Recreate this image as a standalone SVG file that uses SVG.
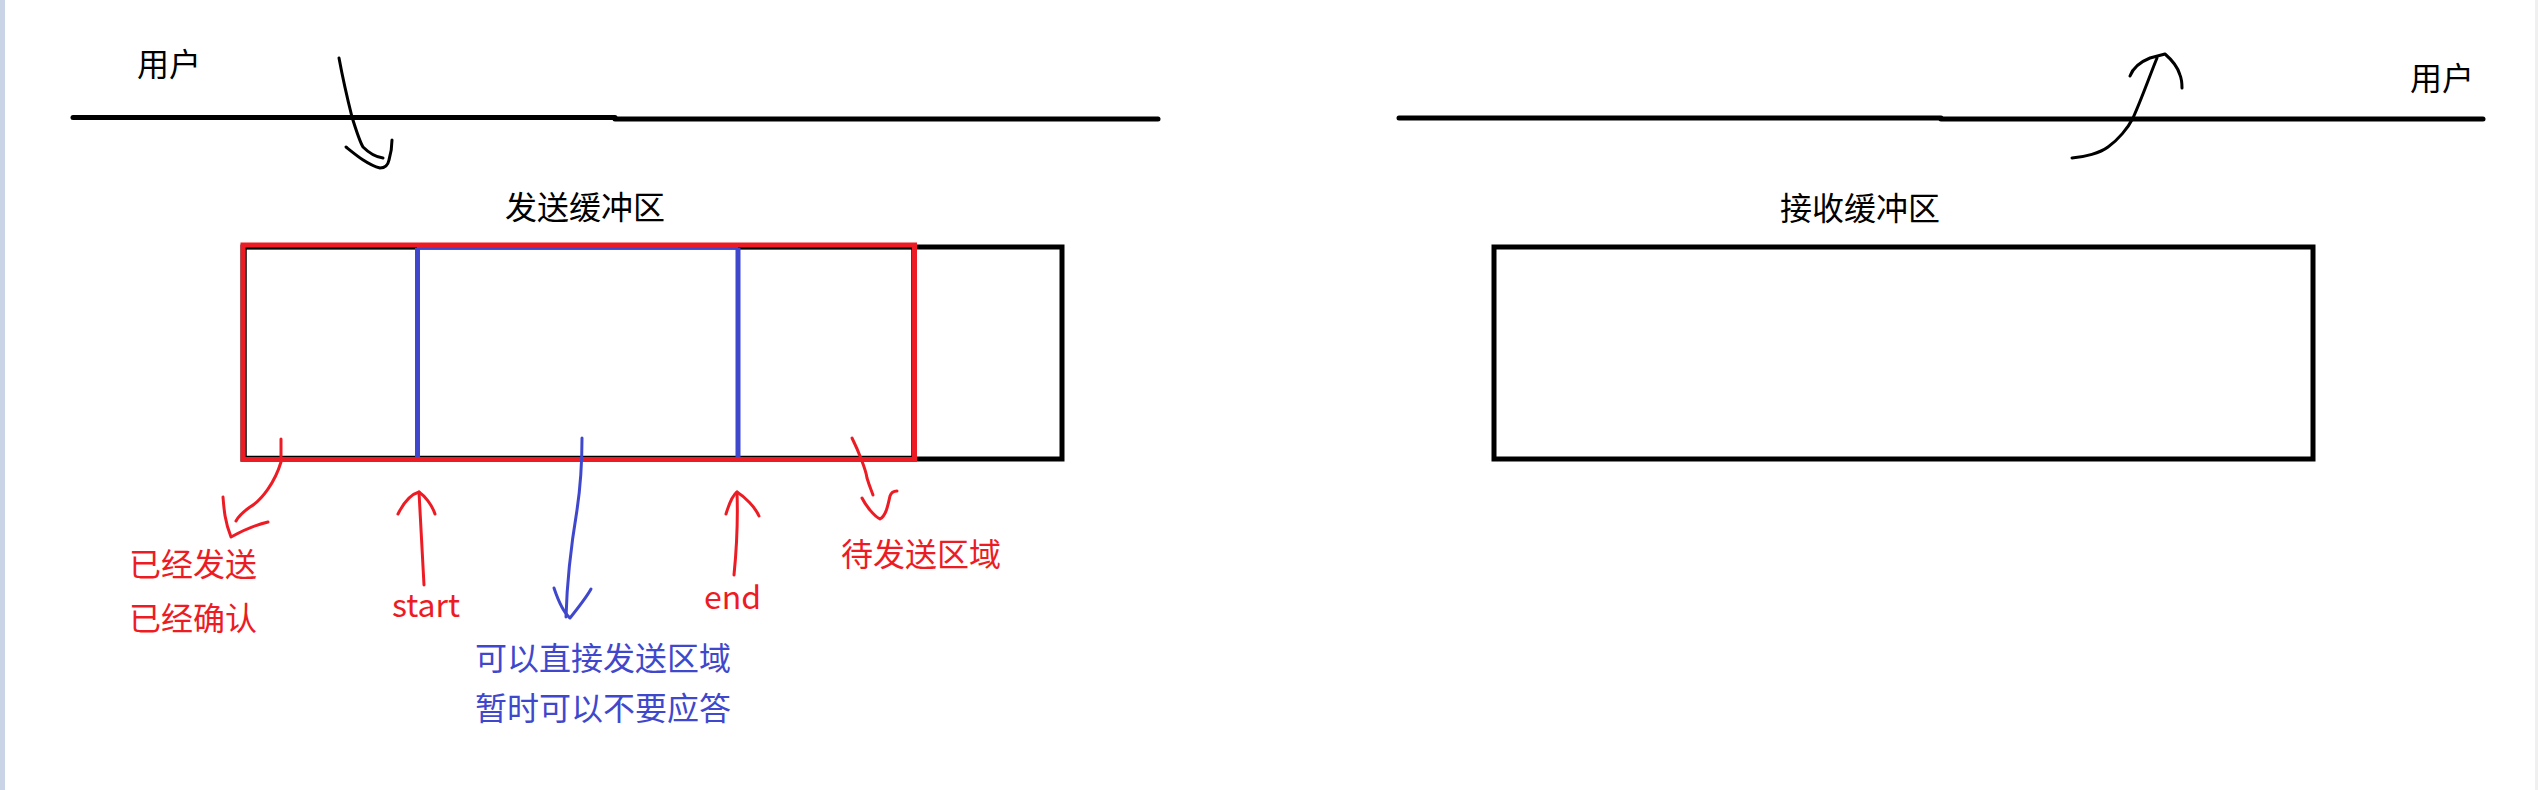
<svg xmlns="http://www.w3.org/2000/svg" width="2538" height="790" viewBox="0 0 2538 790">
<style>
.t{font-family:"Noto Sans CJK SC","Liberation Sans",sans-serif;font-size:32px;}
.k{fill:#000;}
.r{fill:#ed1c24;}
.b{fill:#3f48cc;}
.ln{stroke:#000;stroke-width:5;stroke-linecap:round;fill:none;}
.pk{stroke:#000;stroke-width:3;stroke-linecap:round;stroke-linejoin:round;fill:none;}
.pr{stroke:#ed1c24;stroke-width:3;stroke-linecap:round;stroke-linejoin:round;fill:none;}
.pb{stroke:#3f48cc;stroke-width:3;stroke-linecap:round;stroke-linejoin:round;fill:none;}
</style>
<rect x="0" y="0" width="2538" height="790" fill="#fff"/>
<rect x="0" y="0" width="5" height="790" fill="#c9d4e7"/>
<rect x="2535" y="0" width="3" height="790" fill="#f0f0f0"/>

<g id="user-line-left">
<line class="ln" x1="73" y1="117.5" x2="615" y2="117.5"/>
<line class="ln" x1="615" y1="119" x2="1158" y2="119"/>
<text class="t k" x="137" y="76">用户</text>
</g>

<g id="user-line-right">
<line class="ln" x1="1399" y1="118" x2="1941" y2="118"/>
<line class="ln" x1="1941" y1="119" x2="2483" y2="119"/>
<text class="t k" x="2410" y="90">用户</text>
</g>

<g id="send-buffer">
<text class="t k" x="585" y="219" text-anchor="middle">发送缓冲区</text>
<rect x="243" y="247" width="819" height="212" fill="#fff" stroke="#000" stroke-width="5"/>
<rect x="246" y="248.5" width="666" height="208" fill="none" stroke="#000" stroke-width="1.5"/>
<line x1="417" y1="248" x2="738" y2="248" stroke="#3f48cc" stroke-width="2"/>
<line x1="417.5" y1="248" x2="417.5" y2="457" stroke="#3f48cc" stroke-width="5"/>
<line x1="738" y1="248" x2="738" y2="457" stroke="#3f48cc" stroke-width="5"/>
<rect x="243" y="245" width="671.5" height="214.5" fill="none" stroke="#ed1c24" stroke-width="5"/>
</g>

<g id="receive-buffer">
<text class="t k" x="1860" y="220" text-anchor="middle">接收缓冲区</text>
<rect x="1494" y="247" width="819" height="212" fill="none" stroke="#000" stroke-width="5"/>
</g>

<g id="labels">
<text class="t r" x="129" y="576">已经发送</text>
<text class="t r" x="129" y="630">已经确认</text>
<text class="t r" x="392" y="617">start</text>
<text class="t r" x="704" y="609">end</text>
<text class="t r" x="841" y="566">待发送区域</text>
<text class="t b" x="475" y="670">可以直接发送区域</text>
<text class="t b" x="475" y="720">暂时可以不要应答</text>
</g>

<g id="connectors">
<path class="pk" d="M339,58 C344,85 349,105 352,117 C356,130 360,142 363,147 C368,152 375,157 383,158"/>
<path class="pk" d="M346,147 C356,155 368,165 380,168 C385,168 388,165 389,160 C391,153 392,146 392,140"/>
<path class="pk" d="M2072,158 C2085,157 2100,153 2108,147 C2118,140 2128,128 2133,118 C2142,98 2150,75 2157,58"/>
<path class="pk" d="M2130,76 C2133,68 2140,62 2150,58 L2165,54 C2172,60 2178,68 2180,75 C2182,80 2182,85 2182,88"/>
<path class="pr" d="M281,439 L281,462 C275,482 262,500 250,507 C243,512 238,517 236,521"/>
<path class="pr" d="M223,497 C224,510 225,522 231,537 C240,532 255,525 268,522"/>
<path class="pr" d="M852,438 C858,450 866,470 867,478 C870,488 872,492 873,495"/>
<path class="pr" d="M862,498 C866,506 874,516 880,519 C886,516 888,505 890,496 C891,493 894,491 897,491"/>
<path class="pr" d="M424,585 L419,492"/>
<path class="pr" d="M398,514 C404,502 412,494 419,492 C425,496 432,505 435,514"/>
<path class="pr" d="M734,575 C737,545 738,520 737,492"/>
<path class="pr" d="M726,514 C729,504 733,495 737,492 C745,497 755,507 759,516"/>
<path class="pb" d="M582,438 C582,470 580,490 577,510 C572,540 567,580 566,617"/>
<path class="pb" d="M554,588 C558,600 563,612 570,618 C578,608 586,598 591,589"/>
</g>
</svg>
